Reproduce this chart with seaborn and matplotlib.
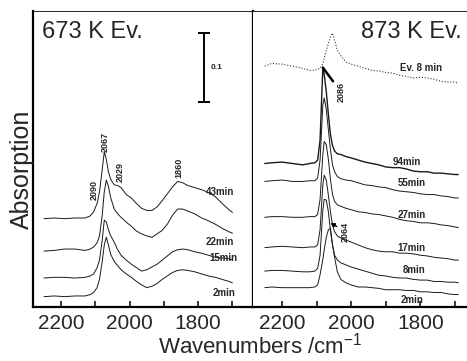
import matplotlib
matplotlib.use("Agg")
import matplotlib.pyplot as plt
import seaborn as sns
import pandas as pd

# ---------------- data (absorbance) ----------------
wn_673 = [2250, 2220, 2190, 2160, 2130, 2115, 2105, 2095, 2088, 2080, 2074, 2068,
          2062, 2055, 2045, 2035, 2025, 2010, 1995, 1980, 1965, 1950, 1935, 1920,
          1905, 1890, 1875, 1860, 1845, 1830, 1810, 1790, 1770, 1750, 1730, 1710, 1700]
abs_673_43 = [0, .001, 0, .001, .001, .004, .010, .022, .039, .071, .097, .086, .068,
              .057, .049, .048, .045, .035, .030, .022, .015, .012, .012, .017, .026,
              .036, .046, .054, .052, .048, .045, .042, .038, .032, .022, .013, .009]
abs_673_22 = [0, .001, .003, .003, .001, .003, .006, .012, .022, .052, .086, .103, .094,
              .077, .061, .054, .049, .042, .036, .029, .025, .022, .020, .025, .030,
              .039, .052, .061, .061, .058, .054, .048, .044, .039, .033, .028, .026]
abs_673_15 = [0, .001, .001, 0, .001, .003, .006, .015, .026, .055, .084, .081, .070,
              .061, .052, .041, .033, .026, .020, .015, .010, .012, .016, .020, .026,
              .032, .038, .041, .042, .041, .038, .036, .033, .030, .029, .028, .026]
abs_673_2 = [0, .001, 0, .001, .001, .003, .006, .013, .025, .051, .075, .086, .075,
             .061, .051, .045, .039, .033, .028, .022, .017, .013, .015, .019, .025,
             .030, .035, .038, .039, .038, .036, .033, .030, .028, .025, .022, .020]
labels_673 = ["43min", "22min", "15min", "2min"]
offsets_673 = [0.128, 0.081, 0.042, 0.015]

wn_873 = [2250, 2230, 2200, 2170, 2140, 2120, 2105, 2097, 2090, 2082, 2078, 2072,
          2066, 2060, 2054, 2048, 2040, 2030, 2015, 2000, 1980, 1960, 1940, 1920,
          1900, 1880, 1860, 1840, 1820, 1800, 1780, 1760, 1740, 1720, 1700, 1690]
abs_873_ev8 = [0, .004, .003, 0, -.003, -.006, -.006, -.004, -.003, .003, .012, .023,
               .033, .042, .048, .038, .023, .015, .006, .003, 0, -.003, -.006, -.007,
               -.009, -.010, -.013, -.015, -.017, -.016, -.017, -.019, -.022, -.023, -.023, -.025]
abs_873_94 = [-.001, 0, .001, -.001, -.003, -.001, 0, .004, .033, .138, .128, .103,
              .070, .041, .025, .017, .013, .012, .009, .007, .004, .001, -.001, -.003,
              -.006, -.007, -.007, -.009, -.012, -.013, -.013, -.015, -.015, -.016, -.017, -.017]
abs_873_55 = [-.001, 0, .001, -.001, -.001, 0, 0, .004, .030, .110, .120, .103,
              .074, .045, .023, .013, .006, .003, .001, 0, -.003, -.006, -.007, -.009,
              -.010, -.013, -.015, -.016, -.017, -.019, -.020, -.020, -.022, -.023, -.025, -.025]
abs_873_27 = [-.001, 0, 0, -.001, -.001, 0, 0, .003, .025, .090, .109, .104,
              .083, .054, .032, .022, .017, .015, .012, .010, .007, .006, .004, .003,
              .001, -.001, -.004, -.006, -.007, -.009, -.009, -.010, -.012, -.013, -.015, -.016]
abs_873_17 = [-.001, 0, .001, 0, -.001, 0, 0, .003, .025, .090, .104, .097,
              .075, .051, .032, .022, .016, .013, .010, .007, .003, -.001, -.004, -.006,
              -.007, -.007, -.009, -.009, -.010, -.012, -.013, -.015, -.016, -.017, -.019, -.019]
abs_873_8 = [0, .001, .001, 0, -.001, -.001, 0, .004, .023, .088, .104, .103,
             .086, .059, .038, .023, .016, .012, .009, .006, .003, 0, -.003, -.006,
             -.007, -.009, -.010, -.010, -.012, -.013, -.013, -.015, -.015, -.016, -.016, -.017]
abs_873_2 = [0, .001, 0, 0, 0, 0, .001, .004, .019, .041, .055, .073,
             .084, .086, .062, .044, .023, .012, .007, .004, .001, .001, 0, -.001,
             -.003, -.003, -.003, -.004, -.004, -.006, -.006, -.007, -.007, -.009, -.010, -.010]
labels_873 = ["Ev. 8 min", "94min", "55min", "27min", "17min", "8min", "2min"]
offsets_873 = [0.349, 0.209, 0.183, 0.131, 0.087, 0.052, 0.028]

xticks_major = [2200, 2000, 1800]
xticks_minor = [2100, 1900, 1700]

# ---------------- style ----------------
sns.set_theme(style="white")
plt.rcParams["font.family"] = ["Liberation Sans", "DejaVu Sans"]
plt.rcParams["mathtext.default"] = "regular"

W, H = 467, 361
fig = plt.figure(figsize=(W / 100, H / 100), dpi=100)
ax1 = fig.add_axes([33 / W, 1 - 307 / H, 220 / W, 296 / H])
ax2 = fig.add_axes([253 / W, 1 - 307 / H, 214 / W, 296 / H])

YMAX = 0.429
LINE = "#1a1a1a"


def draw(ax, wn, series, offsets, styles):
    for vals, off, st in zip(series, offsets, styles):
        df = pd.DataFrame({"wn": wn, "A": [v + off for v in vals]})
        sns.lineplot(data=df, x="wn", y="A", ax=ax, sort=False, estimator=None,
                     color=st.get("color", LINE), lw=st.get("lw", 0.7),
                     linestyle=st.get("ls", "-"))


draw(ax1, wn_673, [abs_673_43, abs_673_22, abs_673_15, abs_673_2], offsets_673,
     [{}, {}, {}, {}])
draw(ax2, wn_873,
     [abs_873_ev8, abs_873_94, abs_873_55, abs_873_27, abs_873_17, abs_873_8, abs_873_2],
     offsets_873,
     [{"ls": (0, (1, 1.6)), "lw": 0.8, "color": "#333333"}, {"lw": 1.0}, {}, {}, {}, {}, {}])

for ax, xl in ((ax1, (2282, 1640)), (ax2, (2284, 1665))):
    ax.set_xlim(*xl)
    ax.set_ylim(0, YMAX)
    ax.set_xlabel("")
    ax.set_ylabel("")
    ax.set_yticks([])
    ax.set_xticks(xticks_major)
    ax.set_xticks(xticks_minor, minor=True)
    ax.set_xticklabels([str(t) for t in xticks_major])
    ax.tick_params(axis="x", which="both", direction="in", length=4, width=1.1,
                   bottom=True, top=False, labelsize=15, pad=5, color="black")
    ax.set_facecolor("white")
    for s in ax.spines.values():
        s.set_color("black")
    ax.spines["bottom"].set_linewidth(1.6)
    ax.spines["top"].set_linewidth(0.6)
    ax.spines["top"].set_linestyle((0, (2, 1)))

ax1.spines["left"].set_linewidth(1.6)
ax1.spines["right"].set_linewidth(1.6)
ax2.spines["left"].set_visible(False)
ax2.spines["right"].set_visible(False)

# titles
ax1.text(0.041, 0.929, "673 K Ev.", transform=ax1.transAxes, fontsize=17,
         va="center", ha="left")
ax2.text(0.977, 0.929, "873 K Ev.", transform=ax2.transAxes, fontsize=17,
         va="center", ha="right")

# scale bar
ax1.plot([1783, 1783], [0.297, 0.397], color="black", lw=1.4, marker="_", ms=8, mew=1.4)
ax1.text(1765, 0.347, "0.1", fontsize=6, fontweight="bold", va="center", ha="left")

# curve labels
lab_kw = dict(fontsize=7, fontweight="bold", va="center", ha="left")
for txt, xy in zip(labels_673, [(1777, 0.167), (1777, 0.094), (1766, 0.071), (1757, 0.020)]):
    ax1.text(xy[0], xy[1], txt, **lab_kw)
for txt, xy in zip(labels_873, [(1859, 0.347), (1879, 0.210), (1865, 0.180), (1865, 0.133),
                               (1865, 0.086), (1850, 0.054), (1856, 0.010)]):
    ax2.text(xy[0], xy[1], txt, **lab_kw)

# peak position labels
pk_kw = dict(fontsize=6.5, fontweight="bold", rotation=90, va="center", ha="center")
for txt, xy in zip(["2090", "2067", "2029", "1860"],
                   [(2104, 0.170), (2072, 0.239), (2028, 0.196), (1856, 0.202)]):
    ax1.text(xy[0], xy[1], txt, **pk_kw)

ax2.annotate("2086", xy=(2082, offsets_873[1] + max(abs_873_94)), xytext=(2030, 0.312),
             arrowprops=dict(arrowstyle="-", lw=1.8, color="black", shrinkA=0, shrinkB=0),
             **pk_kw)
ax2.annotate("2064", xy=(2060, 0.122), xytext=(2016, 0.109),
             arrowprops=dict(arrowstyle="-|>", lw=1.0, color="black", mutation_scale=6,
                             shrinkA=1, shrinkB=0),
             **pk_kw)

# axis labels
fig.text(260 / W, 1 - 346 / H, "Wavenumbers /cm$^{-1}$", fontsize=16,
         ha="center", va="center")
fig.text(22 / W, 1 - 169 / H, "Absorption", fontsize=18, rotation=90,
         ha="center", va="center")

fig.savefig("out.png", dpi=100, facecolor="white")
